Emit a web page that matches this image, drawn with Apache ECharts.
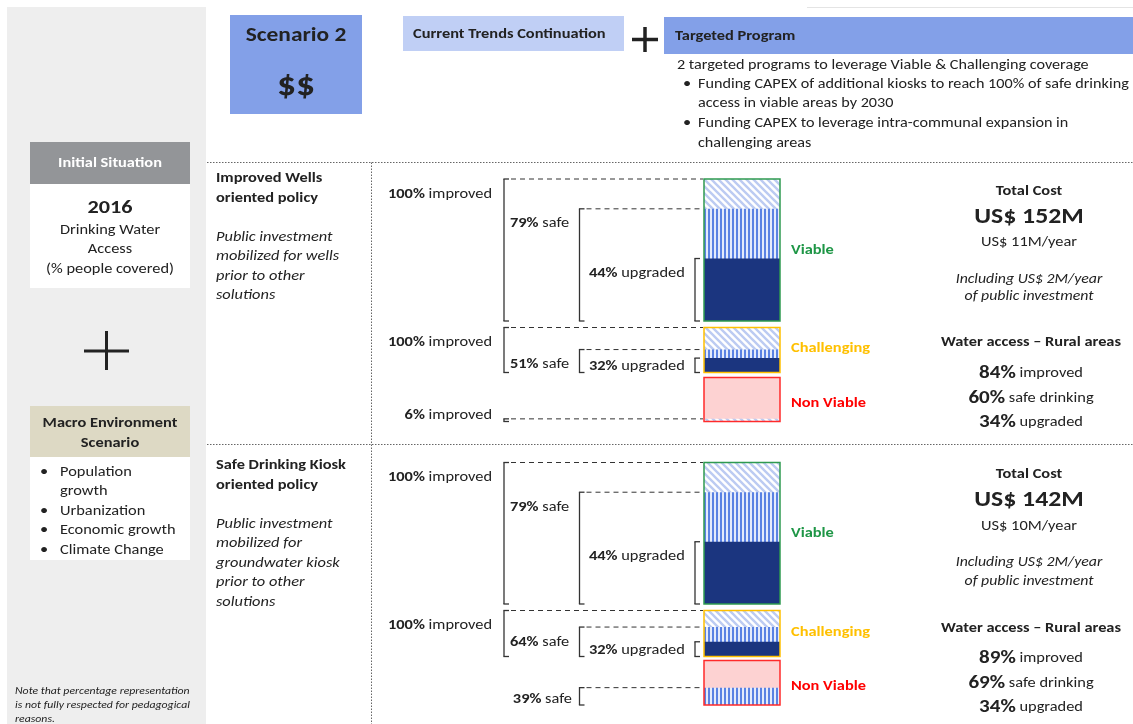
<!DOCTYPE html>
<html>
<head>
<meta charset="utf-8">
<script src="https://cdn.jsdelivr.net/npm/echarts@6/dist/echarts.min.js"></script>
<style>
  html, body { margin: 0; padding: 0; background: #ffffff; }
  #chart { width: 1133px; height: 724px; }
</style>
</head>
<body>
<div id="chart"></div>
<script>
// ---- Data -------------------------------------------------------------
const zones = ['Viable', 'Challenging', 'Non Viable'];
const policyTitles = [['Improved Wells', 'oriented policy'], ['Safe Drinking Kiosk', 'oriented policy']];
const policyNotes = [
  ['Public investment', 'mobilized for wells', 'prior to other', 'solutions'],
  ['Public investment', 'mobilized for', 'groundwater kiosk', 'prior to other', 'solutions']
];
// share of people per zone (policy x zone); null = not shown
const improvedPct = [[100, 100, 6], [100, 100, null]];
const safePct = [[79, 51, null], [79, 64, 39]];
const upgradedPct = [[44, 32, null], [44, 32, null]];
// cost and rural access summary per policy
const totalCost = ['US$ 152M', 'US$ 142M'];
const yearlyCost = ['US$ 11M/year', 'US$ 10M/year'];
const publicInvestment = ['US$ 2M/year', 'US$ 2M/year'];
const ruralImproved = [84, 89];
const ruralSafe = [60, 69];
const ruralUpgraded = [34, 34];
const macroDrivers = [['Population', 'growth'], ['Urbanization'], ['Economic growth'], ['Climate Change']];
const programLines = [
  '2 targeted programs to leverage Viable & Challenging coverage',
  'Funding CAPEX of additional kiosks to reach 100% of safe drinking',
  'access in viable areas by 2030',
  'Funding CAPEX to leverage intra-communal expansion in',
  'challenging areas'
];

// ---- Layout & style ----------------------------------------------------
const FONT = 'Carlito, Lato, "Open Sans", sans-serif';
const STRETCH = 1.17;           // horizontal stretch of all lettering
const INK = '#222222';
const BAR_LEFT = 704, BAR_W = 76;
const barBoxes = [
  [[179, 142], [327.5, 45], [377.5, 44]],
  [[462.5, 141.5], [610.5, 46], [660.5, 44.5]]
];
const zoneBorders = ['#2f9a50', '#ffc000', '#ff2a2a'];
const zoneTextColors = ['#1e9646', '#ffc000', '#ff0000'];
const zoneLabelShift = [0.5, -1.5, 3.5];
const bracketX = { improved: 504, safe: 579.5, upgraded: 695 };
const NAVY = '#1b357f';

function hatchPattern() {
  const s = 7, c = document.createElement('canvas');
  c.width = s; c.height = s;
  const g = c.getContext('2d');
  g.fillStyle = '#ffffff'; g.fillRect(0, 0, s, s);
  g.strokeStyle = '#bccbf2'; g.lineWidth = 2.4;
  for (let k = -1; k <= 1; k++) {
    g.beginPath(); g.moveTo(-1, k * s - 1); g.lineTo(s + 1, k * s + s + 1); g.stroke();
  }
  return { image: c, repeat: 'repeat' };
}
function stripePattern() {
  const c = document.createElement('canvas');
  c.width = 4; c.height = 4;
  const g = c.getContext('2d');
  g.fillStyle = '#e4ebfb'; g.fillRect(0, 0, 4, 4);
  g.fillStyle = '#5a82e3'; g.fillRect(0, 0, 2, 4);
  return { image: c, repeat: 'repeat' };
}
const HATCH = hatchPattern(), STRIPES = stripePattern();

// ---- Bars: one small grid per policy/zone ------------------------------
const grids = [], xAxes = [], yAxes = [], series = [];
policyTitles.forEach((_, pi) => {
  zones.forEach((zone, zi) => {
    const gi = pi * 3 + zi;
    const [top, h] = barBoxes[pi][zi];
    grids.push({
      left: BAR_LEFT, top: top, width: BAR_W, height: h,
      show: true, z: 10, backgroundColor: 'transparent',
      borderColor: zoneBorders[zi], borderWidth: 1.5
    });
    xAxes.push({ type: 'category', gridIndex: gi, data: [zone], show: false });
    yAxes.push({ type: 'value', gridIndex: gi, min: 0, max: 100, show: false });
    const common = { type: 'bar', xAxisIndex: gi, yAxisIndex: gi, barWidth: '100%', barGap: '-100%', silent: true };
    series.push(Object.assign({}, common, {
      name: 'improved', data: [improvedPct[pi][zi]], itemStyle: { color: HATCH },
      showBackground: zi === 2, backgroundStyle: { color: '#fdd2d2' }
    }));
    series.push(Object.assign({}, common, { name: 'safe', data: [safePct[pi][zi]], itemStyle: { color: STRIPES } }));
    series.push(Object.assign({}, common, { name: 'upgraded', data: [upgradedPct[pi][zi]], itemStyle: { color: NAVY } }));
  });
});

const chart = echarts.init(document.getElementById('chart'));
chart.setOption({
  animation: false,
  backgroundColor: '#ffffff',
  grid: grids, xAxis: xAxes, yAxis: yAxes, series: series
});

// ---- Annotations --------------------------------------------------------
function font(size, weight, style) {
  return (style || '') + ' ' + (weight || 'normal') + ' ' + size + 'px ' + FONT;
}
function text(x, y, str, o) {
  o = o || {};
  const style = {
    text: str, font: font(o.size || 14, o.weight, o.style), fill: o.color || INK,
    align: o.align || 'left', verticalAlign: 'middle',
    textAlign: o.align || 'left', textVerticalAlign: 'middle'
  };
  if (o.rich) style.rich = o.rich;
  return { type: 'text', x: x, y: y, scaleX: o.stretch || STRETCH, silent: true, z: 20, style: style };
}
function line(x1, y1, x2, y2, o) {
  o = o || {};
  return {
    type: 'line', silent: true, z: 20,
    shape: { x1: x1, y1: y1, x2: x2, y2: y2 },
    style: { stroke: o.color || INK, lineWidth: o.width || 1, lineDash: o.dash || null }
  };
}
function rect(x, y, w, h, fill) {
  return { type: 'rect', silent: true, z: 1, shape: { x: x, y: y, width: w, height: h }, style: { fill: fill } };
}
const bold = (size) => ({ b: { font: font(size, 'bold'), fill: INK }, r: { font: font(14), fill: INK } });

const G = [];
// left panel
G.push(rect(7, 7, 199, 717, '#eeeeee'));
G.push(line(807, 7.5, 1133, 7.5, { color: '#e4e4e4', width: 1 }));
G.push(rect(30, 142, 160, 42, '#939598'));
G.push(text(110, 163, 'Initial Situation', { weight: 'bold', color: '#ffffff', align: 'center' }));
G.push(rect(30, 184, 160, 104, '#ffffff'));
G.push(text(110, 208, '2016', { weight: 'bold', size: 19, align: 'center' }));
G.push(text(110, 230, 'Drinking Water', { align: 'center' }));
G.push(text(110, 249, 'Access', { align: 'center' }));
G.push(text(110, 269, '(% people covered)', { align: 'center' }));
G.push(line(84, 351, 129, 351, { width: 3, color: '#222' }));
G.push(line(106.5, 331, 106.5, 370, { width: 3, color: '#222' }));
G.push(rect(30, 406, 160, 51, '#ddd9c4'));
G.push(text(110, 423, 'Macro Environment', { weight: 'bold', align: 'center' }));
G.push(text(110, 443, 'Scenario', { weight: 'bold', align: 'center' }));
G.push(rect(30, 457, 160, 103, '#ffffff'));
let my = 472;
macroDrivers.forEach((d) => {
  G.push(text(40, my, '•'));
  d.forEach((ln) => { G.push(text(60, my, ln)); my += 19.5; });
});
const NOTE = { size: 11, style: 'italic', stretch: 1.07 };
G.push(text(15, 691, 'Note that percentage representation', NOTE));
G.push(text(15, 705, 'is not fully respected for pedagogical', NOTE));
G.push(text(15, 719, 'reasons.', NOTE));

// scenario header
G.push(rect(230, 15, 132, 99, '#83a0e8'));
G.push(text(296, 36, 'Scenario 2', { weight: 'bold', size: 20, align: 'center' }));
G.push(text(296, 87, '$$', { weight: 'bold', size: 32, align: 'center' }));
G.push(rect(403, 16, 221, 35, '#c0cff5'));
G.push(text(413, 34, 'Current Trends Continuation', { weight: 'bold' }));
G.push(line(632, 39.5, 658, 39.5, { width: 3.5, color: '#222' }));
G.push(line(645, 27, 645, 52, { width: 3.5, color: '#222' }));
G.push(rect(664, 17, 469, 37, '#83a0e8'));
G.push(text(675, 36, 'Targeted Program', { weight: 'bold' }));
const PROG = { stretch: 1.155 };
G.push(text(677, 65, programLines[0], PROG));
G.push(text(683, 84, '•')); G.push(text(698, 84, programLines[1], PROG));
G.push(text(698, 103, programLines[2], PROG));
G.push(text(683, 123, '•')); G.push(text(698, 123, programLines[3], PROG));
G.push(text(698, 143, programLines[4], PROG));

// section separators
const DOT = { color: '#666', width: 1, dash: [1.5, 1.5] };
G.push(line(207, 162.5, 1133, 162.5, DOT));
G.push(line(207, 444.5, 1133, 444.5, DOT));
G.push(line(371.5, 162.5, 371.5, 724, DOT));

// policy descriptions and summaries
const titleY = [[178, 198], [465, 485]];
const noteY0 = [237, 524];
const sumY = [[191, 217, 242, 280, 297, 342, 373, 398, 422], [474, 500, 526, 563, 582, 628, 658, 683, 707]];
const CX = 1029;
policyTitles.forEach((t, pi) => {
  t.forEach((ln, i) => G.push(text(216, titleY[pi][i], ln, { weight: 'bold' })));
  policyNotes[pi].forEach((ln, i) => G.push(text(216, noteY0[pi] + i * 19.5, ln, { style: 'italic' })));
  const y = sumY[pi];
  G.push(text(CX, y[0], 'Total Cost', { weight: 'bold', align: 'center' }));
  G.push(text(CX, y[1], totalCost[pi], { weight: 'bold', size: 22, align: 'center' }));
  G.push(text(CX, y[2], yearlyCost[pi], { align: 'center' }));
  G.push(text(CX, y[3], 'Including ' + publicInvestment[pi], { style: 'italic', size: 13.5, align: 'center' }));
  G.push(text(CX, y[4], 'of public investment', { style: 'italic', size: 13.5, align: 'center' }));
  G.push(text(CX + 2, y[5], 'Water access – Rural areas', { weight: 'bold', align: 'center' }));
  G.push(text(CX + 2, y[6], '{b|' + ruralImproved[pi] + '%}{r| improved}', { align: 'center', rich: bold(18) }));
  G.push(text(CX + 2, y[7], '{b|' + ruralSafe[pi] + '%}{r| safe drinking}', { align: 'center', rich: bold(18) }));
  G.push(text(CX + 2, y[8], '{b|' + ruralUpgraded[pi] + '%}{r| upgraded}', { align: 'center', rich: bold(18) }));
});

// brackets, dashed level lines and zone names, placed through each grid's scale
policyTitles.forEach((_, pi) => {
  zones.forEach((zone, zi) => {
    const gi = pi * 3 + zi;
    const toPx = (v) => chart.convertToPixel({ gridIndex: gi }, [zone, v]);
    const bottom = toPx(0)[1];
    G.push(text(BAR_LEFT + BAR_W + 11, toPx(50)[1] + zoneLabelShift[zi], zone, { weight: 'bold', color: zoneTextColors[zi] }));
    const levels = [
      { key: 'improved', val: improvedPct[pi][zi] },
      { key: 'safe', val: safePct[pi][zi] },
      { key: 'upgraded', val: upgradedPct[pi][zi] }
    ];
    const hasImproved = improvedPct[pi][zi] != null;
    levels.forEach((lv) => {
      if (lv.val == null) return;
      const x = bracketX[lv.key];
      const top = toPx(lv.val)[1];
      const B = { color: '#333', width: 1.3 };
      G.push(line(x, top, x, bottom, B));
      G.push(line(x - 0.6, top, x + 5, top, B));
      G.push(line(x - 0.6, bottom, x + 5, bottom, B));
      if (BAR_LEFT - (x + 5) > 10) {
        G.push(line(x + 7, top, BAR_LEFT - 1, top, { color: '#333', width: 1, dash: [5, 4] }));
      }
      const ly = Math.min(top + 15, bottom - 6);
      const label = '{b|' + lv.val + '%}{r| ' + lv.key + '}';
      let lx, align;
      if (lv.key === 'improved') { lx = 492; align = 'right'; }
      else if (lv.key === 'safe') { if (hasImproved) { lx = 510; align = 'left'; } else { lx = 572; align = 'right'; } }
      else { lx = 589; align = 'left'; }
      G.push(text(lx, ly, label, { align: align, rich: bold(14) }));
    });
  });
});

chart.setOption({ graphic: { elements: G } });
</script>
</body>
</html>
